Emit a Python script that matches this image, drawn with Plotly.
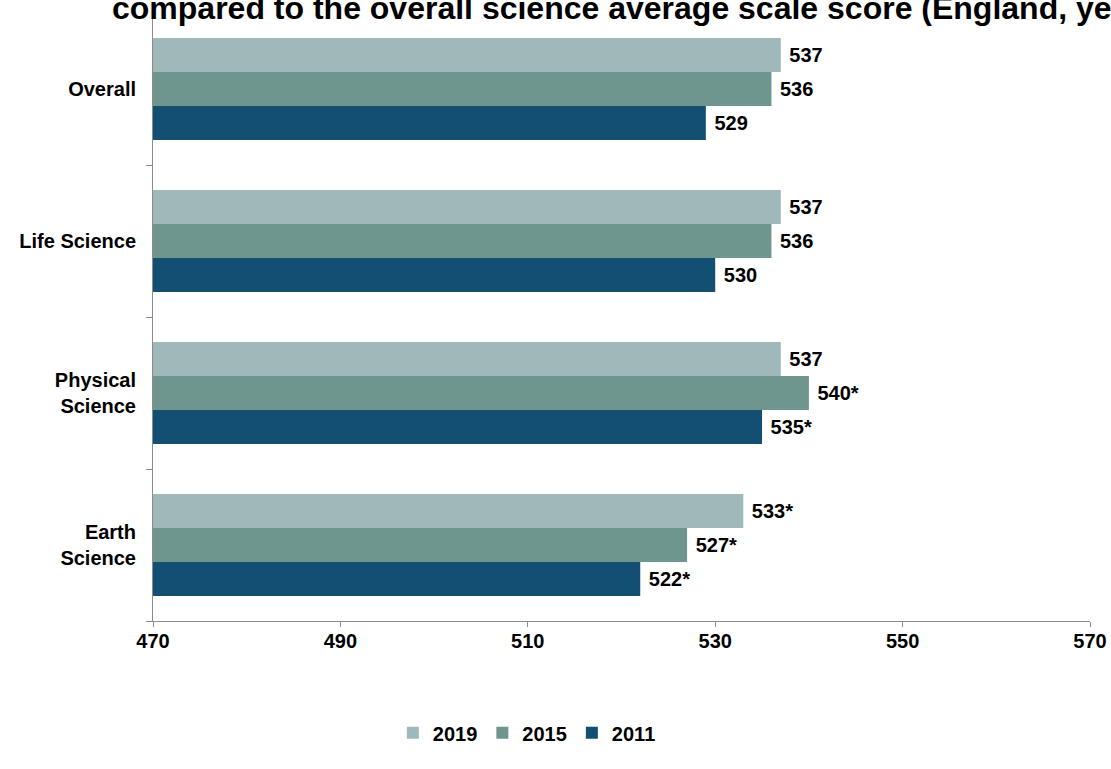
import plotly.graph_objects as go

categories = ["Overall", "Life Science", "Physical<br>Science", "Earth<br>Science"]
years = ["2011", "2015", "2019"]
scores_2011 = [529, 530, 535, 522]
scores_2015 = [536, 536, 540, 527]
scores_2019 = [537, 537, 537, 533]
sig_2011 = [False, False, True, True]
sig_2015 = [False, False, True, True]
sig_2019 = [False, False, False, True]
colors = {"2019": "#A1B8BB", "2015": "#6F958F", "2011": "#124F73"}
x_ticks = [470, 490, 510, 530, 550, 570]
title_text = "compared to the overall science average scale score (England, years 2011, 2015 and 2019)"

series = {"2011": (scores_2011, sig_2011), "2015": (scores_2015, sig_2015), "2019": (scores_2019, sig_2019)}

FONT = "Liberation Sans, Arial, sans-serif"
FS = 20
fig = go.Figure()
for yr in years:
    vals, sig = series[yr]
    labels = [f"&nbsp;<b>{v}{'*' if s else ''}</b>" for v, s in zip(vals, sig)]
    fig.add_trace(go.Bar(
        name=f"<b>{yr}</b>", y=categories, x=vals, orientation="h",
        marker=dict(color=colors[yr], line=dict(width=0)),
        text=labels, textposition="outside", cliponaxis=False,
        textfont=dict(size=FS, color="black", family=FONT),
    ))

fig.update_layout(
    width=1111, height=769,
    paper_bgcolor="white", plot_bgcolor="white",
    margin=dict(l=153, r=21, t=13, b=148, autoexpand=False),
    barmode="group", bargap=0.33, bargroupgap=0,
    font=dict(family=FONT, size=FS, color="black"),
    showlegend=True,
    legend=dict(orientation="h", x=0.399, xanchor="center", y=-0.184, yanchor="middle",
                traceorder="reversed", font=dict(size=FS), itemwidth=30),
    annotations=[dict(text=f"<b>{title_text}</b>", xref="paper", yref="paper",
                      x=-0.046, xanchor="left", y=0.975, yanchor="bottom",
                      showarrow=False, font=dict(size=32, family=FONT, color="black"))],
)
fig.update_xaxes(range=[470, 570], tickvals=x_ticks, ticktext=[f"<b>{t}</b>" for t in x_ticks],
                 showgrid=False, zeroline=False, showline=True, linecolor="#8c8c8c", linewidth=1,
                 ticks="outside", ticklen=5, tickcolor="#8c8c8c", tickfont=dict(size=FS),
                 ticklabelstandoff=-3)
fig.update_yaxes(categoryorder="array", categoryarray=categories[::-1],
                 ticktext=[f"<b>{c}</b>" for c in categories], tickvals=categories,
                 showgrid=False, showline=True, linecolor="#8c8c8c", linewidth=1,
                 ticks="outside", ticklen=6, tickcolor="#8c8c8c", tickson="boundaries",
                 tickfont=dict(size=FS), ticklabelstandoff=12)

fig.write_html("out.html", config={"displayModeBar": False},
               post_script="document.body.style.margin='0';document.body.style.overflow='hidden';")
